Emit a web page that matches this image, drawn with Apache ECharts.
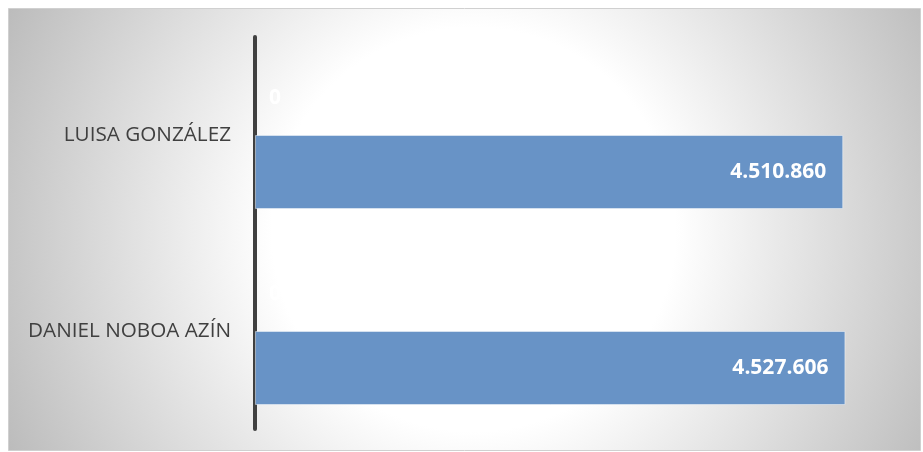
<!DOCTYPE html>
<html>
<head>
<meta charset="utf-8">
<script src="https://cdn.jsdelivr.net/npm/echarts@6/dist/echarts.min.js"></script>
<style>
  html, body { margin: 0; padding: 0; background: #fff; }
  #main { width: 923px; height: 452px; }
</style>
</head>
<body>
<div id="main"></div>
<script>
// categorias (la primera queda abajo en el eje)
var candidatos = ['DANIEL NOBOA AZÍN', 'LUISA GONZÁLEZ'];
// serie vacía que Excel dejó con valor 0
var serieCero = [0, 0];
// votos
var votos = [4527606, 4510860];

var myChart = echarts.init(document.getElementById('main'));

function formatoMiles(v) {
    return String(v).replace(/\B(?=(\d{3})+(?!\d))/g, '.');
}

var option = {
    animation: false,
    graphic: [{
        type: 'rect',
        z: -10,
        shape: { x: 8.5, y: 8.5, width: 912, height: 442 },
        style: {
            fill: {
                type: 'radial', x: 0.51, y: 0.5, r: 1.2,
                colorStops: [
                    { offset: 0, color: '#ffffff' },
                    { offset: 0.38, color: '#ffffff' },
                    { offset: 1, color: '#b8b8b8' }
                ]
            },
            stroke: '#d0d0d0',
            lineWidth: 1
        }
    }],
    grid: { left: 255, right: 16, top: 37, bottom: 23, containLabel: false },
    xAxis: {
        type: 'value',
        min: 0,
        max: 5000000,
        show: false
    },
    yAxis: {
        type: 'category',
        data: candidatos,
        offset: 2,
        axisLine: { show: true, lineStyle: { color: '#404040', width: 4 } },
        axisTick: { show: false },
        axisLabel: {
            margin: 22,
            color: '#404040',
            fontFamily: 'Open Sans',
            fontSize: 20.7,
            padding: [3, 0, 0, 0]
        }
    },
    series: [
        {
            name: 'cero',
            type: 'bar',
            data: serieCero,
            barWidth: 74,
            barGap: '0%',
            itemStyle: { color: '#6893c6', borderWidth: 0 },
            label: {
                show: true,
                position: 'right',
                distance: 14,
                color: '#ffffff',
                fontFamily: 'Open Sans',
                fontWeight: 'bold',
                fontSize: 21
            }
        },
        {
            name: 'votos',
            type: 'bar',
            data: votos,
            barWidth: 74,
            barGap: '0%',
            itemStyle: {
                color: '#6893c6',
                borderColor: 'rgba(255,255,255,0.45)',
                borderWidth: 1
            },
            label: {
                show: true,
                position: 'insideRight',
                distance: 17,
                color: '#ffffff',
                fontFamily: 'Open Sans',
                fontWeight: 'bold',
                fontSize: 21,
                formatter: function (p) { return formatoMiles(p.value); }
            }
        }
    ]
};

myChart.setOption(option);
</script>
</body>
</html>
